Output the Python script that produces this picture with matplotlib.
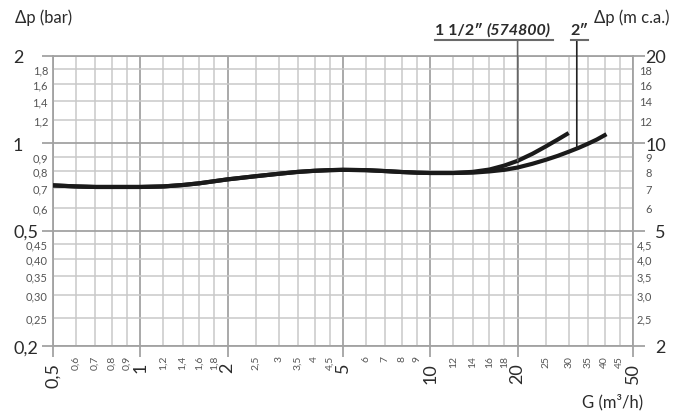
import numpy as np
import matplotlib
matplotlib.use("Agg")
import matplotlib.pyplot as plt
from matplotlib.ticker import FixedLocator, FixedFormatter
from matplotlib.patches import ConnectionPatch
from matplotlib.lines import Line2D

plt.rcParams['font.family'] = ['Lato', 'DejaVu Sans']

# portata G (m3/h) - tratto comune alle due curve
g_comune = [0.5, 0.6, 0.7, 0.8, 0.9, 1.0, 1.2, 1.4, 1.6, 1.8, 2.0, 2.5, 3.0,
            3.5, 4.0, 4.5, 5.0, 6.0, 7.0, 8.0, 9.0, 10.0, 12.0]
dp_comune = [0.716, 0.71, 0.707, 0.707, 0.707, 0.707, 0.71, 0.718, 0.728,
             0.74, 0.751, 0.77, 0.785, 0.797, 0.804, 0.808, 0.81, 0.808,
             0.802, 0.796, 0.792, 0.79, 0.79]

# 1 1/2" (574800)
g_15 = [14.0, 16.0, 18.0, 20.0, 22.5, 25.0, 27.5, 30.0]
dp_15 = [0.797, 0.812, 0.838, 0.87, 0.92, 0.975, 1.03, 1.085]

# 2"
g_20 = [14.0, 16.0, 18.0, 20.0, 22.5, 25.0, 27.5, 30.0, 32.5, 35.0, 37.5, 40.5]
dp_20 = [0.792, 0.80, 0.81, 0.825, 0.85, 0.877, 0.905, 0.935, 0.965, 0.997,
         1.03, 1.075]

x_major = [0.5, 1, 2, 5, 10, 20, 50]
x_major_lab = ['0,5', '1', '2', '5', '10', '20', '50']
x_minor = [0.6, 0.7, 0.8, 0.9, 1.2, 1.4, 1.6, 1.8, 2.5, 3, 3.5, 4, 4.5,
           6, 7, 8, 9, 12, 14, 16, 18, 25, 30, 35, 40, 45]
x_minor_lab = ['0,6', '0,7', '0,8', '0,9', '1,2', '1,4', '1,6', '1,8', '2,5',
               '3', '3,5', '4', '4,5', '6', '7', '8', '9', '12', '14', '16',
               '18', '25', '30', '35', '40', '45']

y_major = [0.2, 0.5, 1, 2]
y_major_lab = ['0,2', '0,5', '1', '2']
y_minor = [0.25, 0.30, 0.35, 0.40, 0.45, 0.6, 0.7, 0.8, 0.9, 1.2, 1.4, 1.6, 1.8]
y_minor_lab = ['0,25', '0,30', '0,35', '0,40', '0,45', '0,6', '0,7', '0,8',
               '0,9', '1,2', '1,4', '1,6', '1,8']

ym_major = [2, 5, 10, 20]
ym_major_lab = ['2', '5', '10', '20']
ym_minor = [2.5, 3.0, 3.5, 4.0, 4.5, 6, 7, 8, 9, 12, 14, 16, 18]
ym_minor_lab = ['2,5', '3,0', '3,5', '4,0', '4,5', '6', '7', '8', '9',
                '12', '14', '16', '18']

W, H = 686, 414
fig = plt.figure(figsize=(W / 100, H / 100), dpi=100)
fig.subplots_adjust(left=53 / W, right=633 / W, bottom=1 - 347 / H, top=1 - 57 / H)
ax = fig.add_subplot(111)

col_maj = '#a2a2a2'
col_min = '#c9c9c9'
col_txt = '#2b2b2b'
col_txt2 = '#555555'

ax.set_xscale('log')
ax.set_yscale('log')
ax.set_xlim(0.5, 50)
ax.set_ylim(0.2, 2)

ax.xaxis.set_major_locator(FixedLocator(x_major))
ax.xaxis.set_major_formatter(FixedFormatter(x_major_lab))
ax.xaxis.set_minor_locator(FixedLocator(x_minor))
ax.xaxis.set_minor_formatter(FixedFormatter(x_minor_lab))
ax.yaxis.set_major_locator(FixedLocator(y_major))
ax.yaxis.set_major_formatter(FixedFormatter(y_major_lab))
ax.yaxis.set_minor_locator(FixedLocator(y_minor))
ax.yaxis.set_minor_formatter(FixedFormatter(y_minor_lab))

ax.tick_params(axis='x', which='major', length=7.9, width=1.3, color=col_maj,
               pad=3.6, labelsize=13, labelrotation=90, labelcolor=col_txt)
ax.tick_params(axis='x', which='minor', length=0, pad=6.5, labelsize=7.5,
               labelrotation=90, labelcolor=col_txt2)
ax.tick_params(axis='y', which='major', length=7.9, width=1.3, color=col_maj,
               pad=20.9, labelsize=13, labelcolor=col_txt)
ax.tick_params(axis='y', which='minor', length=0, pad=3.6, labelsize=8,
               labelcolor=col_txt2)
for t in ax.yaxis.get_major_ticks():
    t.label1.set_horizontalalignment('left')

ax.grid(which='major', color=col_maj, lw=1.3)
ax.grid(which='minor', color=col_min, lw=1.1)
for s in ax.spines.values():
    s.set_color(col_maj)
    s.set_linewidth(1.3)

# asse destro in m c.a.
ax2 = ax.twinx()
ax2.set_yscale('log')
ax2.set_ylim(2, 20)
ax2.yaxis.set_major_locator(FixedLocator(ym_major))
ax2.yaxis.set_major_formatter(FixedFormatter(ym_major_lab))
ax2.yaxis.set_minor_locator(FixedLocator(ym_minor))
ax2.yaxis.set_minor_formatter(FixedFormatter(ym_minor_lab))
ax2.tick_params(axis='y', which='major', length=8.6, width=1.3, color=col_maj,
                pad=15.1, labelsize=13, labelcolor=col_txt)
ax2.tick_params(axis='y', which='minor', length=0, pad=13.7, labelsize=8,
                labelcolor=col_txt2)
for t in ax2.yaxis.get_major_ticks() + ax2.yaxis.get_minor_ticks():
    t.label2.set_horizontalalignment('right')
for s in ax2.spines.values():
    s.set_visible(False)

# curve
g15 = np.array(g_comune + g_15)
p15 = np.array(dp_comune + dp_15)
g20 = np.array(g_comune + g_20)
p20 = np.array(dp_comune + dp_20)
ax.plot(g20, p20, color='#1a1a1a', lw=3, solid_capstyle='butt',
        solid_joinstyle='round', zorder=3)
ax.plot(g15, p15, color='#1a1a1a', lw=3, solid_capstyle='butt',
        solid_joinstyle='round', zorder=3)

# etichette delle curve con linee di richiamo
def fx(px):
    return px / W

def fy(py):
    return 1 - py / H

t1 = fig.text(fx(435), fy(31), '1 1/2″ ', fontsize=11.5, fontweight='bold',
              color=col_txt, ha='left', va='center')
ax.annotate('(574800)', xy=(1, 0), xycoords=t1, ha='left', va='bottom',
            fontsize=11.5, fontweight='bold', fontstyle='italic', color=col_txt,
            annotation_clip=False)
fig.text(fx(579.5), fy(31), '2″', fontsize=11.5, fontweight='bold',
         color=col_txt, ha='center', va='center')
fig.add_artist(Line2D([fx(435), fx(553)], [fy(41), fy(41)], color='#6a6a6a', lw=1.5))
fig.add_artist(Line2D([fx(571), fx(588)], [fy(41), fy(41)], color='#6a6a6a', lw=1.5))

def dp_at(g, gs, ps):
    return 10 ** np.interp(np.log10(g), np.log10(gs), np.log10(ps))

g_lead15 = 20
g_lead20 = 32
for g, gs, ps, c in [(g_lead15, g15, p15, '#666666'), (g_lead20, g20, p20, '#222222')]:
    xf = fig.transFigure.inverted().transform(ax.transData.transform((g, 1)))[0]
    con = ConnectionPatch(xyA=(xf, fy(41)), coordsA=fig.transFigure,
                          xyB=(g, dp_at(g, gs, ps)), coordsB=ax.transData,
                          color=c, lw=1.2)
    fig.add_artist(con)

fig.text(fx(15), fy(18), 'Δp (bar)', fontsize=12, color=col_txt, ha='left', va='center')
fig.text(fx(669), fy(18), 'Δp (m c.a.)', fontsize=12, color=col_txt, ha='right', va='center')
fig.text(fx(643), fy(402), 'G (m³/h)', fontsize=12, color=col_txt, ha='right', va='center')

fig.savefig('out.png', dpi=100)
